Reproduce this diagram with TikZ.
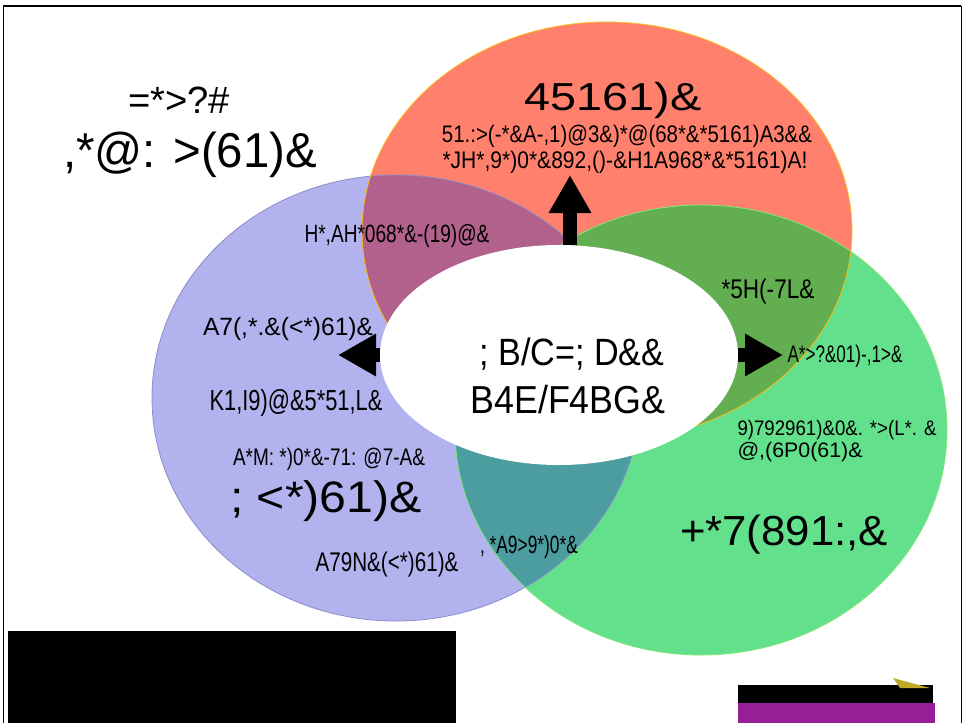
\documentclass[tikz,border=0pt]{standalone}
\usepackage{fontspec}
\setmainfont{Liberation Sans}
\usepackage{graphicx}
\usetikzlibrary{arrows.meta}
\usetikzlibrary{shapes.geometric}
\definecolor{purplefill}{RGB}{178,178,238}
\definecolor{redfill}{RGB}{255,128,108}
\definecolor{greenfill}{RGB}{98,224,140}
\definecolor{magentafill}{RGB}{178,96,140}
\definecolor{darkgreenfill}{RGB}{98,174,80}
\definecolor{tealfill}{RGB}{75,157,160}
\definecolor{purpleline}{RGB}{140,140,200}
\definecolor{redline}{RGB}{250,190,30}
\definecolor{greenline}{RGB}{130,230,120}
\definecolor{logopurple}{RGB}{150,30,150}
\definecolor{logoolive}{RGB}{190,170,40}
\newcommand{\fitw}[3]{\fontsize{#1}{#1}\selectfont\resizebox{#2pt}{\height}{#3}}

\begin{document}
\begin{tikzpicture}[x=1pt, y=-1pt,
    lbl/.style={anchor=base, inner sep=0pt, text=black},
    bigarrow/.style={-{Triangle[length=38pt, width=40pt]}, line width=14pt}]
            \useasboundingbox (0,0) rectangle (965,723);

            \coordinate (bluec) at (396,398);
            \coordinate (redc) at (607,231);
            \coordinate (greenc) at (701,430);

            \fill [purplefill] (bluec) ellipse [x radius=244, y radius=223];
            \fill [redfill] (redc) ellipse [x radius=245, y radius=209];
            \fill [greenfill] (greenc) ellipse [x radius=246, y radius=225];

            \begin{scope}
                \clip (bluec) ellipse [x radius=244, y radius=223];
                \fill [magentafill] (redc) ellipse [x radius=245, y radius=209];
                \fill [tealfill] (greenc) ellipse [x radius=246, y radius=225];
            \end{scope}
            \begin{scope}
                \clip (redc) ellipse [x radius=245, y radius=209];
                \fill [darkgreenfill] (greenc) ellipse [x radius=246, y radius=225];
            \end{scope}

            \draw [purpleline, line width=0.8] (bluec) ellipse [x radius=244, y radius=223];
            \draw [redline, line width=0.8] (redc) ellipse [x radius=245, y radius=209];
            \draw [greenline, line width=0.8] (greenc) ellipse [x radius=246, y radius=225];

            \node [ellipse, fill=white, minimum width=358pt, minimum height=220pt, inner sep=0pt, outer sep=0pt] (core) at (559,355) {};

            \coordinate (uptip) at (570,175);
            \coordinate (lefttip) at (338,355);
            \coordinate (righttip) at (783,355);

            \draw [bigarrow] (core.north -| uptip) -- (uptip);
            \draw [bigarrow] (core.west) -- (lefttip);
            \draw [bigarrow] (core.east) -- (righttip);

            \node [lbl] (title) at (179,113) {\fitw{38}{102}{=*>?\#}};
            \node [lbl] (subtitle) at (190,167) {\fitw{49}{254}{,*@: >(61)\&}};

            \node [lbl] (redhead) at (613,110) {\fitw{39}{177}{45161)\&}};
            \node [lbl] (redone) at (627,142) {\fitw{24}{370}{51.:>(-*\&A-,1)@3\&)*@(68*\&*5161)A3\&\&}};
            \node [lbl] (redtwo) at (625,168) {\fitw{24}{365}{*JH*,9*)0*\&892,()-\&H1A968*\&*5161)A!}};

            \node [lbl] (redblue) at (397,242) {\fitw{25}{185}{H*,AH*068*\&-(19)@\&}};
            \node [lbl] (blueone) at (288,335) {\fitw{25}{170}{A7(,*.\&(<*)61)\&}};
            \node [lbl] (bluetwo) at (296,410) {\fitw{29}{173}{K1,I9)@\&5*51,L\&}};
            \node [lbl] (bluethree) at (329,465) {\fitw{24}{192}{A*M: *)0*\&-71: @7-A\&}};
            \node [lbl] (bluehead) at (326,512) {\fitw{44}{192}{; <*)61)\&}};
            \node [lbl] (bluefour) at (387,571) {\fitw{27}{143}{A79N\&(<*)61)\&}};

            \node [lbl] (coreone) at (572,365) {\fitw{38}{185}{; B/C=; D\&\&}};
            \node [lbl] (coretwo) at (568,413) {\fitw{39}{195}{B4E/F4BG\&}};

            \node [lbl] (redgreen) at (768,298) {\fitw{27}{93}{*5H(-7L\&}};
            \node [lbl] (greenone) at (845,362) {\fitw{24}{115}{A*>?\&01)-,1>\&}};
            \node [lbl] (greentwo) at (837,435) {\fitw{21}{199}{9)792961)\&0\&. *>(L*. \&}};
            \node [lbl] (greenthree) at (800,457) {\fitw{21}{125}{@,(6P0(61)\&}};
            \node [lbl] (greenhead) at (784,545) {\fitw{42}{208}{+*7(891:,\&}};
            \node [lbl] (bluegreen) at (529,553) {\fitw{25}{98}{, *A9>9*)0*\&}};

            \fill [black] (8,631) rectangle (456,723);

            \fill [black] (738,685) rectangle (933,703);
            \fill [logopurple] (738,703) rectangle (935,723);
            \fill [logoolive] (893,678) -- (930,688) -- (900,688) -- cycle;

            \draw [line width=1] (3,723) -- (3,6) -- (961,6) -- (961,723);
            \draw [line width=2.5] (3,6) -- (961,6);
        \end{tikzpicture}
\end{document}
